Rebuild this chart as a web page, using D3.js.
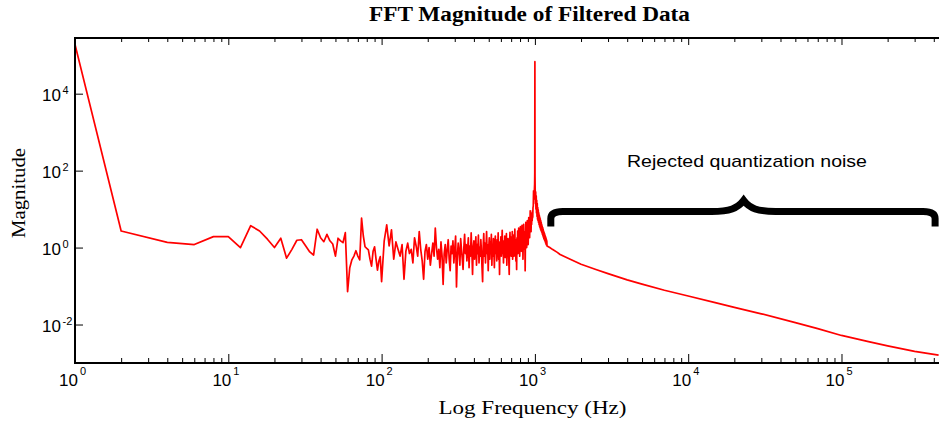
<!DOCTYPE html>
<html><head><meta charset="utf-8">
<script src="https://d3js.org/d3.v7.min.js"></script>
<style>body{margin:0;background:#fff}svg{display:block}</style>
</head><body><svg id="c" width="939" height="423"></svg>
<script>
// ---- data ----
const lowFreq = [1,2,4,6,8,10,12,14,16,18,20,22,24,26,28,30,32,34,36,38,40,42,44,46,48,50,52,54,56,58,60,62,64,66,68,70,72,74,76,78,80,82,84,86,88,90,92,94,96,98];
const lowMag = [1.9e5,2.7,1.37,1.2,1.93,1.93,1.0,3.7,2.7,1.65,1.0,1.75,0.53,0.9,1.55,1.6,1.1,0.77,0.64,3.0,1.8,1.42,2.2,1.5,1.24,0.6,1.75,1.5,1.34,2.44,0.071,0.3,0.48,0.6,0.83,0.6,0.48,5.8,2.0,1.05,0.95,0.87,0.5,0.33,0.8,1.05,0.5,0.26,0.45,0.58];
// FFT bins 100..996 Hz every 4 Hz
const midStartHz = 100, midStepHz = 4;
const midMag = [
 0.13,1.5,3.9,1.1,2.9,0.5,1.4,0.9,0.6,1.2,0.15,0.8,1.3,0.7,0.9,
 0.4,1.8,1.1,0.6,2.6,0.9,0.45,0.15,0.8,1.2,0.5,1.0,0.35,0.7,1.3,
 0.6,3.2,1.0,0.5,0.9,0.3,1.4,0.6,0.11,0.7,1.2,0.4,0.9,1.6,0.5,
 0.25,1.1,0.7,1.5,0.4,0.9,2.0,0.095,0.6,1.3,0.8,0.35,1.7,0.9,0.5,
 0.27,1.0,2.2,0.7,1.2,0.45,0.9,1.8,0.3,1.1,0.6,2.4,0.8,0.2,1.0,
 1.5,0.5,0.9,1.9,0.35,1.2,0.7,2.1,0.4,1.0,0.6,1.6,0.8,0.3,0.13,
 1.1,2.3,0.6,1.3,0.4,0.9,2.6,0.7,1.2,0.25,1.0,1.8,0.5,1.4,0.8,
 2.2,0.35,1.1,0.6,1.7,0.9,0.3,1.3,2.0,0.7,1.2,0.45,1.6,0.9,2.4,
 0.5,1.0,0.2,1.4,0.8,1.9,0.6,1.2,2.8,0.7,1.1,0.4,1.5,0.9,2.0,
 0.55,1.3,0.8,2.3,0.35,1.2,0.7,1.7,1.0,0.45,0.2,1.4,2.5,0.8,1.3,
 0.6,1.9,1.0,2.6,0.5,1.5,0.9,2.1,0.6,1.2,3.0,0.8,1.6,0.45,1.3,
 0.27,1.8,1.0,2.7,0.7,1.5,3.2,0.9,1.9,0.6,1.4,3.5,1.1,2.2,0.8,
 1.7,3.8,1.2,2.4,0.5,1.6,4.0,1.3,2.6,0.9,2.0,0.25,1.8,4.5,1.4,
 3.0,1.0,2.3,5.0,1.6,3.3,1.2,2.6,6.0,2.0,4.0,1.8,3.5,9.0,3.0,
 5.5,2.6,6.5,4.0,8.0,5.0,9.0,6.0,11,12,30,18,28,30,45];
const peakFreq = [998,1000,1002];
const peakMag = [90,68000,70];
// FFT bins 1004..1200 Hz every 4 Hz
const postStartHz = 1004, postStepHz = 4;
const postMag = [35,14,28,10,22,8,17,6.5,14,5.5,11,5,9.5,4.5,8,4,7,3.6,6.2,3.3,5.6,3.0,5.0,2.8,4.5,2.6,4.0,2.4,3.6,2.2,3.3,2.0,3.0,1.85,2.7,1.7,2.5,1.6,2.3,1.5,2.1,1.4,1.95,1.3,1.8,1.2,1.65,1.15,1.5,1.1];
const tailFreq = [1250,1300,1400,1460,1700,2000,2500,3000,4000,5000,7000,10000,15000,20000,30000,50000,70000,100000,150000,200000,300000,430000];
const tailMag = [1.0,0.9,0.75,0.66,0.5,0.37,0.27,0.21,0.145,0.112,0.078,0.055,0.037,0.028,0.019,0.0112,0.0078,0.0052,0.0036,0.0028,0.002,0.0016];

const xDecades = [1,10,100,1000,10000,100000];
const xExp = ["0","1","2","3","4","5"];
const yDecades = [0.01,1,100,10000];
const yExp = ["-2","0","2","4"];

const titleText = "FFT Magnitude of Filtered Data";
const xLabel = "Log Frequency (Hz)";
const yLabel = "Magnitude";
const noteText = "Rejected quantization noise";
// annotation brace in data space
const braceFromHz = 1270, braceToHz = 4.08e5, braceTipHz = 2.3e4, braceLevel = 8.7;

// ---- build points ----
const pts = [];
lowFreq.forEach((f,i)=>pts.push({f, v:lowMag[i]}));
midMag.forEach((v,i)=>pts.push({f:midStartHz+midStepHz*i, v}));
peakFreq.forEach((f,i)=>pts.push({f, v:peakMag[i]}));
postMag.forEach((v,i)=>pts.push({f:postStartHz+postStepHz*i, v}));
tailFreq.forEach((f,i)=>pts.push({f, v:tailMag[i]}));

// ---- layout ----
const L=75, T=38, B=363, R=941;
const svg = d3.select("#c");
const x = d3.scaleLog().domain([1,4.3e5]).range([L,938.6]);
const y = d3.scaleLog().domain([1e-3,2.8e5]).range([B,T]);

svg.append("clipPath").attr("id","clip").append("rect")
  .attr("x",L).attr("y",T).attr("width",R-L).attr("height",B-T);

svg.append("path").datum(pts)
  .attr("clip-path","url(#clip)")
  .attr("fill","none").attr("stroke","#ff0000").attr("stroke-width",1.7)
  .attr("stroke-linejoin","round")
  .attr("d", d3.line().x(d=>x(d.f)).y(d=>y(d.v)));

const xMinor = x.ticks().filter(t=>!xDecades.includes(t));
function ax(gen, tr){
  const g = svg.append("g").attr("transform",tr).call(gen);
  g.select(".domain").remove();
  g.selectAll("line").attr("stroke","#000").attr("stroke-width",1);
  g.selectAll("text").remove();
}
ax(d3.axisBottom(x).tickValues(xDecades).tickSize(-9), `translate(0,${B})`);
ax(d3.axisBottom(x).tickValues(xMinor).tickSize(-5), `translate(0,${B})`);
ax(d3.axisTop(x).tickValues(xDecades).tickSize(-7), `translate(0,${T})`);
ax(d3.axisTop(x).tickValues(xMinor).tickSize(-4), `translate(0,${T})`);
ax(d3.axisLeft(y).tickValues(yDecades).tickSize(-8), `translate(${L},0)`);

// frame (right side lies beyond the window)
svg.append("rect").attr("x",L).attr("y",T).attr("width",R-L).attr("height",B-T)
  .attr("fill","none").attr("stroke","#000").attr("stroke-width",2);

const sans = "'Liberation Sans', Arial, sans-serif";
const serif = "'Liberation Serif', 'Times New Roman', serif";

// x tick labels
xDecades.forEach((d,i)=>{
  svg.append("text").attr("x",x(d)+3).attr("y",386).attr("text-anchor","end")
    .attr("font-family",sans).attr("font-size",17).text("10");
  svg.append("text").attr("x",x(d)+5).attr("y",375)
    .attr("font-family",sans).attr("font-size",11).text(xExp[i]);
});
// y tick labels
yDecades.forEach((d,i)=>{
  svg.append("text").attr("x",61).attr("y",y(d)+7).attr("text-anchor","end")
    .attr("font-family",sans).attr("font-size",17).text("10");
  svg.append("text").attr("x",62.5).attr("y",y(d)+0.5)
    .attr("font-family",sans).attr("font-size",11).text(yExp[i]);
});

svg.append("text").attr("x",369).attr("y",21).attr("font-family",serif)
  .attr("font-weight","bold").attr("font-size",20)
  .attr("textLength",321).attr("lengthAdjust","spacingAndGlyphs").text(titleText);
svg.append("text").attr("x",438.5).attr("y",414).attr("font-family",serif)
  .attr("font-size",18).attr("textLength",188).attr("lengthAdjust","spacingAndGlyphs").text(xLabel);
svg.append("text").attr("transform","translate(25,238) rotate(-90)").attr("font-family",serif)
  .attr("font-size",19).attr("textLength",90).attr("lengthAdjust","spacingAndGlyphs").text(yLabel);
svg.append("text").attr("x",627).attr("y",167).attr("font-family",sans)
  .attr("font-size",17).attr("textLength",240).attr("lengthAdjust","spacingAndGlyphs").text(noteText);

// brace
const bx0=x(braceFromHz), bx1=x(braceToHz), bxt=x(braceTipHz), by=y(braceLevel);
const p = d3.path();
p.moveTo(bx0, by+15); p.lineTo(bx0, by+7);
p.quadraticCurveTo(bx0, by, bx0+12, by);
p.lineTo(bxt-32, by);
p.bezierCurveTo(bxt-14, by, bxt-6, by-3, bxt, by-11);
p.bezierCurveTo(bxt+6, by-3, bxt+14, by, bxt+32, by);
p.lineTo(bx1-12, by);
p.quadraticCurveTo(bx1, by, bx1, by+7);
p.lineTo(bx1, by+15);
svg.append("path").attr("d",p.toString()).attr("fill","none")
  .attr("stroke","#000").attr("stroke-width",7);
</script></body></html>
